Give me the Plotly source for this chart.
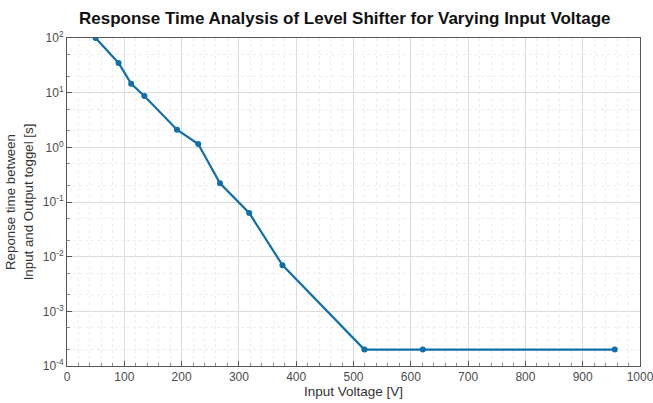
import plotly.graph_objects as go

voltage = [50, 90, 112, 135, 192, 229, 267, 318, 376, 519, 621, 956]
response_time = [100, 35, 14.5, 8.7, 2.1, 1.15, 0.22, 0.063, 0.007, 0.0002, 0.0002, 0.0002]

x_ticks = list(range(0, 1001, 100))
y_tickvals = [1e-4, 1e-3, 1e-2, 1e-1, 1e0, 1e1, 1e2]
y_ticktext = ["10<sup>-4</sup>", "10<sup>-3</sup>", "10<sup>-2</sup>", "10<sup>-1</sup>",
              "10<sup>0</sup>", "10<sup>1</sup>", "10<sup>2</sup>"]

color = "#0f6fa8"
fig = go.Figure()
fig.add_trace(go.Scatter(
    x=voltage, y=response_time, mode="lines+markers",
    line=dict(color=color, width=2.2),
    marker=dict(color=color, size=6),
    showlegend=False,
))

axis_common = dict(
    showline=True, linecolor="#555555", linewidth=1, mirror=True,
    ticks="inside", ticklen=5, tickcolor="#555555",
    showgrid=True, gridcolor="#dcdcdc", gridwidth=1,
    tickfont=dict(family="Liberation Sans, Arial", size=12, color="#4d4d4d"),
    zeroline=False, automargin=False, ticklabeloverflow="allow",
)

fig.update_layout(
    width=653, height=403,
    margin=dict(l=67, r=13, t=38, b=37),
    paper_bgcolor="white", plot_bgcolor="white",
    title=dict(text="<b>Response Time Analysis of Level Shifter for Varying Input Voltage</b>",
               x=0.528, xanchor="center", y=0.955, yanchor="middle",
               font=dict(family="Liberation Sans, Arial", size=17, color="#111111")),
    xaxis=dict(
        range=[0, 1000], tickvals=x_ticks, ticktext=[str(v) for v in x_ticks],
        title=dict(text="Input Voltage [V]", standoff=1,
                   font=dict(family="Liberation Sans, Arial", size=13.5, color="#333333")),
        minor=dict(dtick=20, showgrid=True, gridcolor="#eeeeee", griddash="dot",
                   ticks="inside", ticklen=3, tickcolor="#888888"),
        **axis_common,
    ),
    yaxis=dict(
        type="log", range=[-4, 2], tickvals=y_tickvals, ticktext=y_ticktext,
        title=dict(text="Reponse time between<br>Input and Output toggel [s]", standoff=6,
                   font=dict(family="Liberation Sans, Arial", size=13.3, color="#333333")),
        minor=dict(showgrid=True, gridcolor="#eeeeee", griddash="dot",
                   ticks="inside", ticklen=3, tickcolor="#888888"),
        **axis_common,
    ),
)

fig.write_html("out.html")
